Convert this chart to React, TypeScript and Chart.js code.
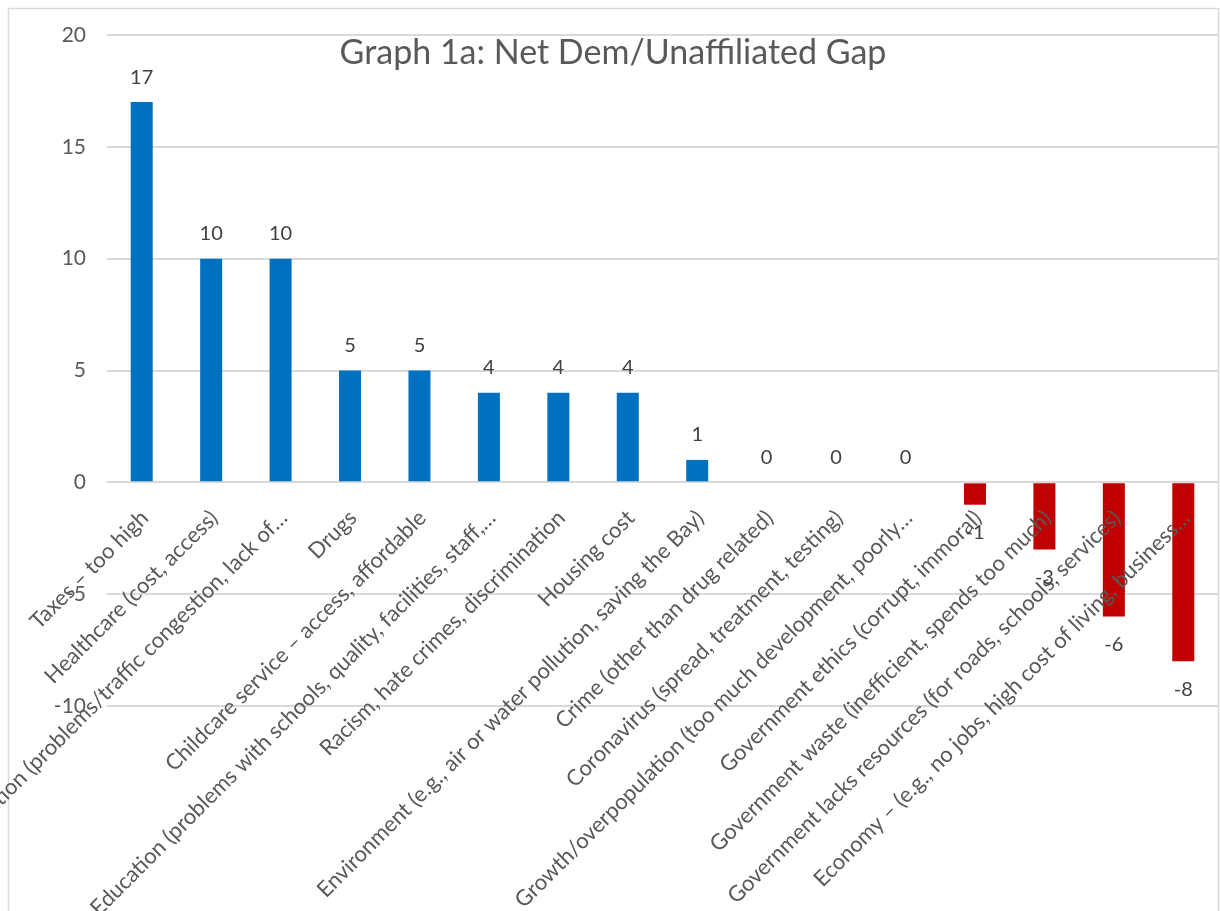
import React, { useEffect, useRef } from "react";
import { Chart, registerables } from "chart.js";

Chart.register(...registerables);

const title = "Graph 1a: Net Dem/Unaffiliated Gap";

const categories = [
  "Taxes – too high",
  "Healthcare (cost, access)",
  "Transportation (problems/traffic congestion, lack of…",
  "Drugs",
  "Childcare service – access, affordable",
  "Education (problems with schools, quality, facilities, staff,…",
  "Racism, hate crimes, discrimination",
  "Housing cost",
  "Environment (e.g., air or water pollution, saving the Bay)",
  "Crime (other than drug related)",
  "Coronavirus (spread, treatment, testing)",
  "Growth/overpopulation (too much development, poorly…",
  "Government ethics (corrupt, immoral)",
  "Government waste (inefficient, spends too much)",
  "Government lacks resources (for roads, schools, services)",
  "Economy – (e.g., no jobs, high cost of living, business…",
];

const values = [17, 10, 10, 5, 5, 4, 4, 4, 1, 0, 0, 0, -1, -3, -6, -8];

const yMin = -10;
const yMax = 20;
const yStep = 5;

const POS_COLOR = "#0070C0";
const NEG_COLOR = "#C00000";
const TEXT_COLOR = "#595959";
const FONT = "Lato, 'Open Sans', sans-serif";

const decorPlugin = {
  id: "decor",
  beforeDraw(chart: any) {
    const ctx = chart.ctx;
    ctx.save();
    ctx.fillStyle = "#ffffff";
    ctx.fillRect(0, 0, chart.width, chart.height);
    ctx.strokeStyle = "#d9d9d9";
    ctx.lineWidth = 1.5;
    ctx.strokeRect(8.5, 8.5, chart.width - 10, chart.height + 20);
    ctx.restore();
  },
  afterDatasetsDraw(chart: any) {
    const ctx = chart.ctx;
    const xs = chart.scales.x;
    const ys = chart.scales.y;
    const zeroY = ys.getPixelForValue(0);
    ctx.save();
    // category labels, rotated
    ctx.fillStyle = TEXT_COLOR;
    ctx.font = `22px ${FONT}`;
    ctx.textAlign = "right";
    ctx.textBaseline = "middle";
    categories.forEach((c, i) => {
      const x = xs.getPixelForValue(i);
      ctx.save();
      ctx.translate(x + 3, zeroY + 32);
      ctx.rotate(-Math.PI / 4);
      ctx.fillText(c, 0, 0);
      ctx.restore();
    });
    // value labels
    ctx.fillStyle = "#404040";
    ctx.font = `20px ${FONT}`;
    ctx.textAlign = "center";
    ctx.textBaseline = "middle";
    const meta = chart.getDatasetMeta(0);
    values.forEach((v, i) => {
      const bar = meta.data[i];
      const x = bar.x;
      const y = ys.getPixelForValue(v);
      const ly = v < 0 ? y + 28 : y - 25;
      ctx.fillText(String(v), x, ly);
    });
    // title
    ctx.fillStyle = TEXT_COLOR;
    ctx.font = `34px ${FONT}`;
    ctx.textAlign = "center";
    ctx.textBaseline = "middle";
    ctx.fillText(title, 613, 53);
    ctx.restore();
  },
};

export default function App() {
  const ref = useRef<HTMLCanvasElement | null>(null);
  useEffect(() => {
    if (!ref.current) return;
    const chart = new Chart(ref.current, {
      type: "bar",
      data: {
        labels: categories,
        datasets: [
          {
            data: values,
            backgroundColor: values.map((v) => (v < 0 ? NEG_COLOR : POS_COLOR)),
            barPercentage: 0.317,
            categoryPercentage: 1,
          },
        ],
      },
      options: {
        responsive: false,
        animation: false,
        devicePixelRatio: 1,
        layout: { padding: { left: 8, right: 2, top: 35, bottom: 205 } },
        plugins: {
          legend: { display: false },
          tooltip: { enabled: false },
          title: { display: false },
        },
        scales: {
          x: {
            display: false,
            offset: true,
          },
          y: {
            min: yMin,
            max: yMax,
            afterFit: (s: any) => {
              s.width = 99;
            },
            ticks: {
              stepSize: yStep,
              padding: 21,
              color: TEXT_COLOR,
              font: { family: FONT, size: 21 },
            },
            grid: {
              color: "#d9d9d9",
              lineWidth: 2,
              drawTicks: false,
            },
            border: { display: false },
          },
        },
      },
      plugins: [decorPlugin],
    });
    return () => chart.destroy();
  }, []);
  return (
    <div style={{ position: "absolute", left: 0, top: 0, width: 1220, height: 911 }}>
      <canvas ref={ref} width={1220} height={911} />
    </div>
  );
}
